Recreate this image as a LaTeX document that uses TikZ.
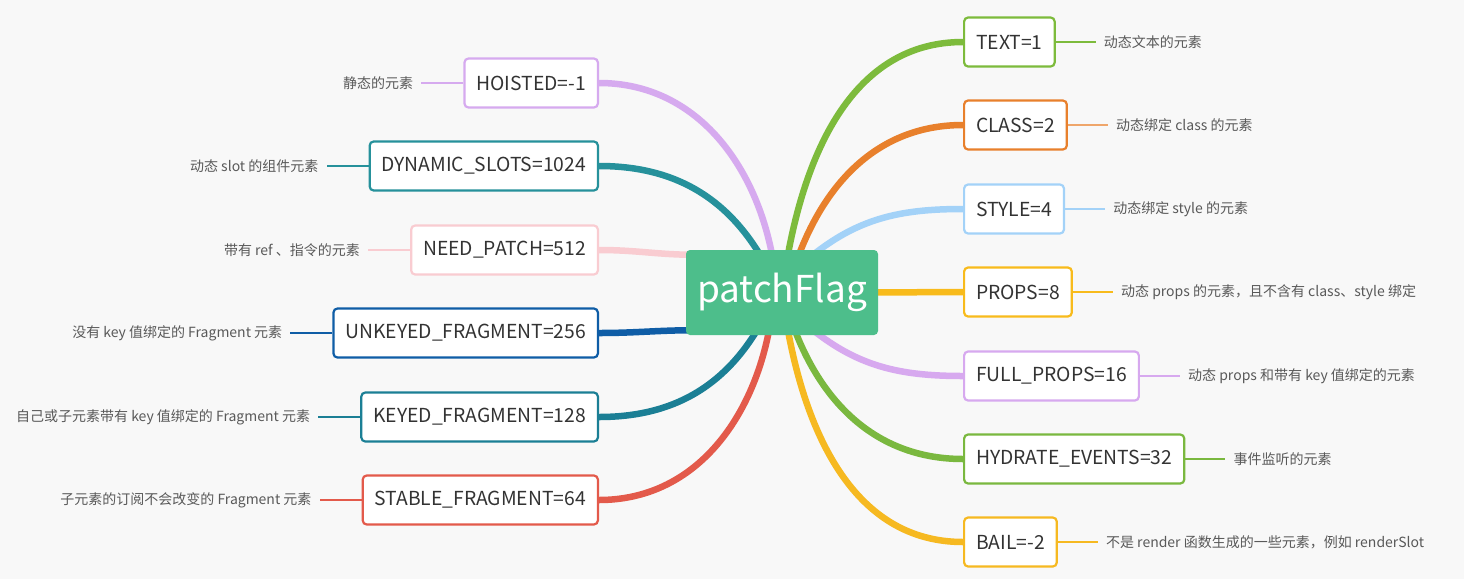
\documentclass[tikz,border=0pt]{standalone}
\usepackage{fontspec}
\setmainfont{Noto Sans CJK SC}
\definecolor{cBg}{HTML}{F8F8F8}
\definecolor{cRoot}{HTML}{4DBE8B}
\definecolor{cText}{HTML}{7DBB3C}
\definecolor{cClass}{HTML}{E8802C}
\definecolor{cStyle}{HTML}{A3D2F8}
\definecolor{cProps}{HTML}{F8BB1C}
\definecolor{cFull}{HTML}{D7A9EF}
\definecolor{cHyd}{HTML}{7AB83F}
\definecolor{cBail}{HTML}{F6B921}
\definecolor{cHoist}{HTML}{D6AAEF}
\definecolor{cDyn}{HTML}{26919B}
\definecolor{cNeed}{HTML}{F9CCD1}
\definecolor{cUnk}{HTML}{0F5DA6}
\definecolor{cKey}{HTML}{1B7F95}
\definecolor{cStab}{HTML}{E35A4B}
\pgfdeclarelayer{bg}
\pgfdeclarelayer{branches}
\pgfsetlayers{bg,branches,main}
\begin{document}
\begin{tikzpicture}[x=1pt,y=-1pt,
  box/.style={draw, line width=2.2pt, fill=white, rounded corners=4pt,
    minimum height=49pt, inner xsep=12pt, font=\fontsize{19.3}{22}\selectfont, text=black!80},
  lbl/.style={inner xsep=8pt, font=\fontsize{14}{16}\selectfont, text=black!65},
  br/.style={line width=6.5pt, line cap=round},
  tw/.style={line width=1.5pt}]
\useasboundingbox (0,0) rectangle (1464,579);
\begin{pgfonlayer}{bg}
  \fill[cBg] (0,0) rectangle (1464,579);
\end{pgfonlayer}

% root
\node[fill=cRoot, rounded corners=4pt, minimum width=192pt, minimum height=85pt,
  text=white, font=\fontsize{37}{44}\selectfont] (pf) at (782,292.5) {patchFlag};

% right boxes
\node[box, draw=cText, anchor=west]  (r1) at (963,42)  {TEXT=1};
\node[box, draw=cClass, anchor=west] (r2) at (963,125) {CLASS=2};
\node[box, draw=cStyle, anchor=west] (r3) at (963,209) {STYLE=4};
\node[box, draw=cProps, anchor=west] (r4) at (963,292) {PROPS=8};
\node[box, draw=cFull, anchor=west]  (r5) at (963,376) {FULL\_PROPS=16};
\node[box, draw=cHyd, anchor=west]   (r6) at (963,459) {HYDRATE\_EVENTS=32};
\node[box, draw=cBail, anchor=west]  (r7) at (963,542) {BAIL=-2};

% left boxes
\node[box, draw=cHoist, anchor=east] (l1) at (599,83)  {HOISTED=-1};
\node[box, draw=cDyn, anchor=east]   (l2) at (599,166) {DYNAMIC\_SLOTS=1024};
\node[box, draw=cNeed, anchor=east]  (l3) at (599,250) {NEED\_PATCH=512};
\node[box, draw=cUnk, anchor=east]   (l4) at (599,333) {UNKEYED\_FRAGMENT=256};
\node[box, draw=cKey, anchor=east]   (l5) at (599,417) {KEYED\_FRAGMENT=128};
\node[box, draw=cStab, anchor=east]  (l6) at (599,500) {STABLE\_FRAGMENT=64};

% right labels
\node[lbl, anchor=west] (d1) at ([xshift=40pt]r1.east) {动态文本的元素};
\node[lbl, anchor=west] (d2) at ([xshift=40pt]r2.east) {动态绑定 class 的元素};
\node[lbl, anchor=west] (d3) at ([xshift=40pt]r3.east) {动态绑定 style 的元素};
\node[lbl, anchor=west] (d4) at ([xshift=40pt]r4.east) {动态 props 的元素，且不含有 class、style 绑定};
\node[lbl, anchor=west] (d5) at ([xshift=40pt]r5.east) {动态 props 和带有 key 值绑定的元素};
\node[lbl, anchor=west] (d6) at ([xshift=40pt]r6.east) {事件监听的元素};
\node[lbl, anchor=west] (d7) at ([xshift=40pt]r7.east) {不是 render 函数生成的一些元素，例如 renderSlot};

% left labels
\node[lbl, anchor=east] (e1) at ([xshift=-42pt]l1.west) {静态的元素};
\node[lbl, anchor=east] (e2) at ([xshift=-42pt]l2.west) {动态 slot 的组件元素};
\node[lbl, anchor=east] (e3) at ([xshift=-42pt]l3.west) {带有 ref 、指令的元素};
\node[lbl, anchor=east] (e4) at ([xshift=-42pt]l4.west) {没有 key 值绑定的 Fragment 元素};
\node[lbl, anchor=east] (e5) at ([xshift=-42pt]l5.west) {自己或子元素带有 key 值绑定的 Fragment 元素};
\node[lbl, anchor=east] (e6) at ([xshift=-42pt]l6.west) {子元素的订阅不会改变的 Fragment 元素};

% label connectors
\draw[tw, cText]  (r1.east) -- (d1.west);
\draw[tw, cClass!70] (r2.east) -- (d2.west);
\draw[tw, cStyle] (r3.east) -- (d3.west);
\draw[tw, cProps] (r4.east) -- (d4.west);
\draw[tw, cFull]  (r5.east) -- (d5.west);
\draw[tw, cHyd]   (r6.east) -- (d6.west);
\draw[tw, cBail]  (r7.east) -- (d7.west);
\draw[tw, cHoist] (l1.west) -- (e1.east);
\draw[tw, cDyn]   (l2.west) -- (e2.east);
\draw[tw, cNeed]  (l3.west) -- (e3.east);
\draw[tw, cUnk]   (l4.west) -- (e4.east);
\draw[tw, cKey]   (l5.west) -- (e5.east);
\draw[tw, cStab]  (l6.west) -- (e6.east);

% branches
\begin{pgfonlayer}{branches}
  \draw[br, cText]  ([xshift=5pt,yshift=-10pt]pf.north) to[out=80,in=180] (r1.west);
  \draw[br, cClass] ([xshift=15pt,yshift=-10pt]pf.north) to[out=70,in=180] (r2.west);
  \draw[br, cStyle] ([xshift=25pt,yshift=-10pt]pf.north) to[out=40,in=180] (r3.west);
  \draw[br, cProps] ([xshift=-10pt]pf.east) -- (r4.west);
  \draw[br, cFull]  ([xshift=25pt,yshift=10pt]pf.south) to[out=-40,in=180] (r5.west);
  \draw[br, cHyd]   ([xshift=11pt,yshift=10pt]pf.south) to[out=-70,in=180] (r6.west);
  \draw[br, cBail]  ([xshift=5pt,yshift=10pt]pf.south) to[out=-80,in=180] (r7.west);
  \draw[br, cHoist] ([xshift=-9pt,yshift=-10pt]pf.north) to[out=100,in=0] (l1.east);
  \draw[br, cDyn]   ([xshift=-19pt,yshift=-10pt]pf.north) to[out=120,in=0] (l2.east);
  \draw[br, cNeed]  ([xshift=10pt,yshift=-5pt]pf.north west) to[out=180,in=0] (l3.east);
  \draw[br, cUnk]   ([xshift=10pt,yshift=5pt]pf.south west) to[out=180,in=0] (l4.east);
  \draw[br, cKey]   ([xshift=-22pt,yshift=10pt]pf.south) to[out=-120,in=0] (l5.east);
  \draw[br, cStab]  ([xshift=-12pt,yshift=10pt]pf.south) to[out=-100,in=0] (l6.east);
\end{pgfonlayer}
\end{tikzpicture}
\end{document}
